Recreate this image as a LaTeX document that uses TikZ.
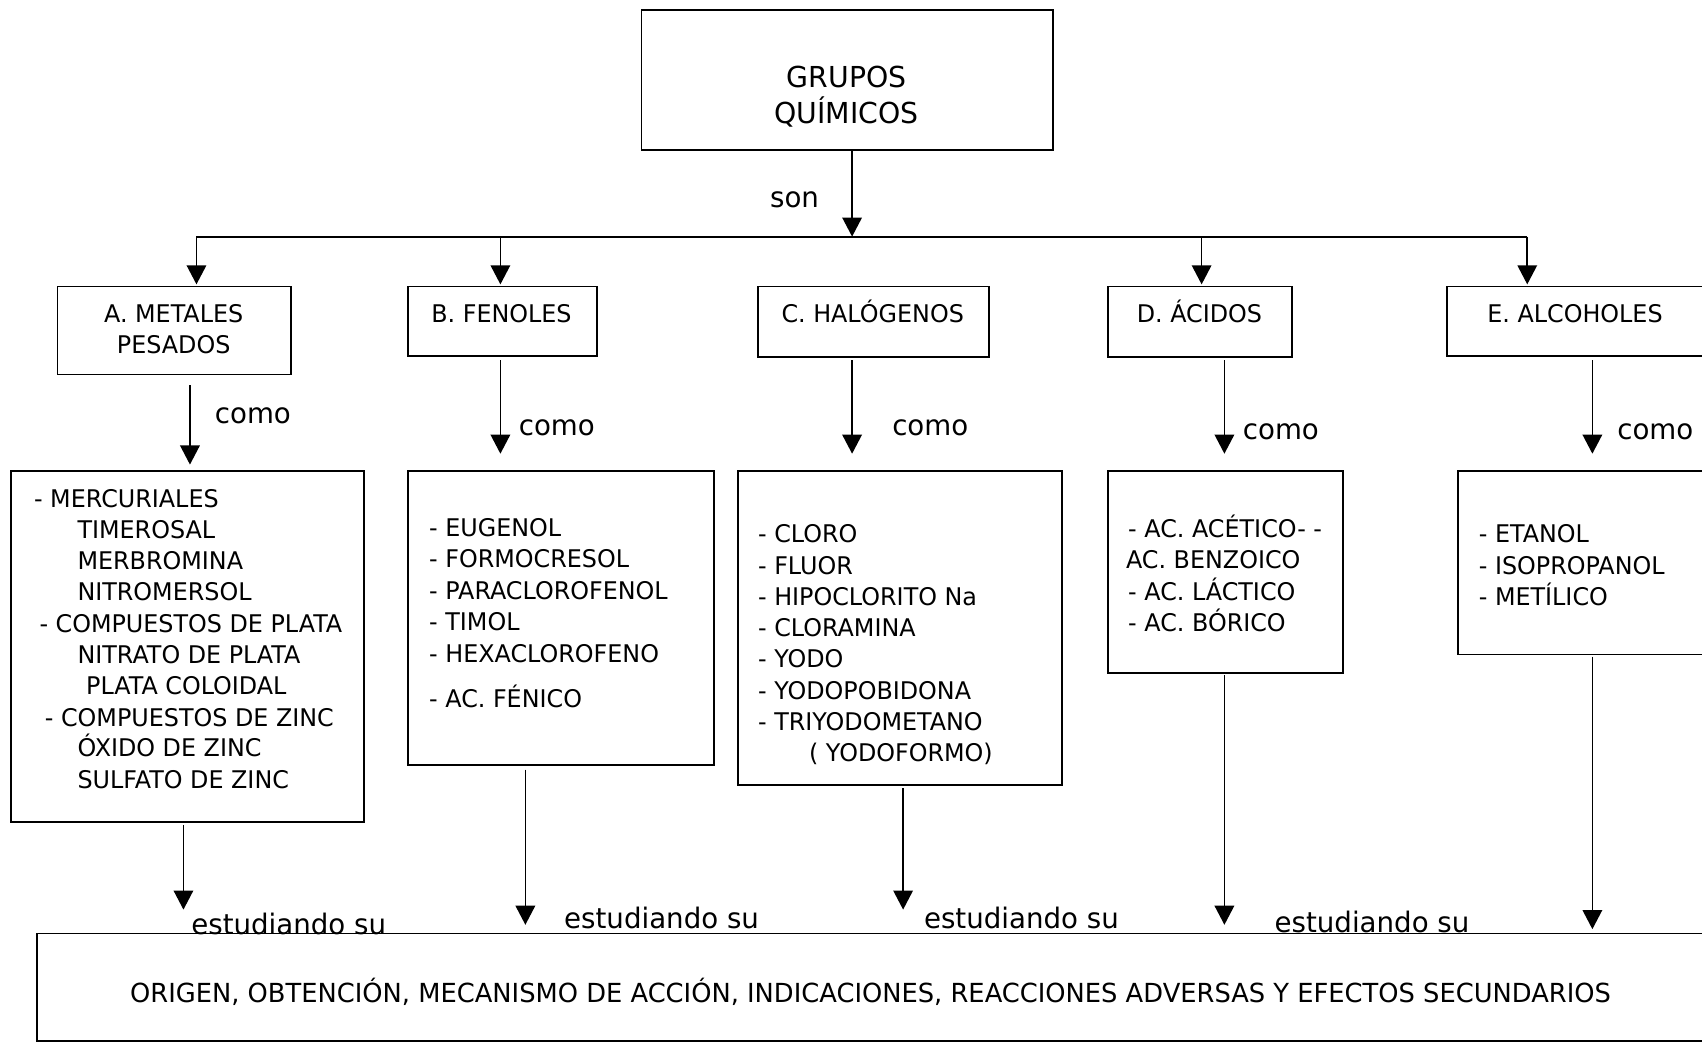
\documentclass[tikz,border=0pt]{standalone}
\usepackage{fontspec}
\setmainfont{DejaVu Sans}[FakeStretch=0.98]
\usetikzlibrary{arrows.meta,fit}
\begin{document}
\begin{tikzpicture}[x=0.5pt,y=-0.5pt,
  box/.style={draw, line width=0.85pt, inner sep=0pt},
  item/.style={inner sep=0pt, anchor=base west, font=\fontsize{11.2}{13}\selectfont},
  head/.style={inner sep=0pt, anchor=base, font=\fontsize{11.2}{13}\selectfont},
  ttl/.style={inner sep=0pt, anchor=base, font=\fontsize{13.3}{15}\selectfont},
  lbl/.style={inner sep=0pt, font=\fontsize{13}{15}\selectfont},
  foot/.style={inner sep=0pt, anchor=base, font=\fontsize{12.1}{14}\selectfont},
  arr/.style={line width=0.8pt, -{Triangle[length=8.8pt,width=9pt]}},
  branch/.style={line width=1pt}]
\useasboundingbox (0,0) rectangle (1568,961);
\clip (0,0) rectangle (1568,961);

% title box
\node[box, fit={(591,9) (970,138)}] (top) {};
\node[ttl] (t1) at (780,80.5) {GRUPOS};
\node[ttl] (t2) at (780,113.5) {QUÍMICOS};

% main arrow and branch line
\coordinate (m0) at (785,138);
\coordinate (m1) at (785,218);
\draw[arr] (m0) -- (m1);
\node[lbl] (son) at (732,184) {son};
\coordinate (bl) at (181,218);
\coordinate (br) at (1407,218);
\draw[branch] (bl) -- (br);

% group boxes
\node[box, fit={(53,264) (268,345)}] (ha) {};
\node[box, fit={(376,264) (550,328)}] (hb) {};
\node[box, fit={(698,264) (911,329)}] (hc) {};
\node[box, fit={(1021,264) (1190,329)}] (hd) {};
\node[box, fit={(1333,264) (1590,328)}] (he) {};
\node[head] (ha1) at (160,297) {A. METALES};
\node[head] (ha2) at (160,326) {PESADOS};
\node[head] (hb1) at (462,297) {B. FENOLES};
\node[head] (hc1) at (804,297) {C. HALÓGENOS};
\node[head] (hd1) at (1105,297) {D. ÁCIDOS};
\node[head] (he1) at (1451,297) {E. ALCOHOLES};

% branch arrows
\foreach \x/\n in {181/a,461/b,1107/d,1407/e}{
  \coordinate (s\n) at (\x,218);
  \coordinate (e\n) at (\x,262);
  \draw[arr] (s\n) -- (e\n);
}

% "como" arrows
\foreach \x/\ya/\yb/\lx/\ly/\n in {175/355/428/233/383/a,461/332/418/513/394/b,785/332/418/857/394/c,1128/332/418/1180/398/d,1467/332/418/1525/398/e}{
  \coordinate (c\n0) at (\x,\ya);
  \coordinate (c\n1) at (\x,\yb);
  \draw[arr] (c\n0) -- (c\n1);
  \node[lbl] (como\n) at (\lx,\ly) {como};
}

% list boxes
\node[box, fit={(10,434) (335,757)}] (la) {};
\node[box, fit={(376,434) (658,705)}] (lb) {};
\node[box, fit={(680,434) (978,723)}] (lc) {};
\node[box, fit={(1021,434) (1237,620)}] (ld) {};
\node[box, fit={(1343,434) (1590,603)}] (le) {};

\foreach \x/\y/\t [count=\i] in {31/468/- MERCURIALES, 71/496/TIMEROSAL,
  71/525/MERBROMINA, 71/553/NITROMERSOL, 36/583/- COMPUESTOS DE PLATA,
  71/611/NITRATO DE PLATA, 79/640/PLATA COLOIDAL, 41/669/- COMPUESTOS DE ZINC,
  71/697/ÓXIDO DE ZINC, 71/726/SULFATO DE ZINC}
  \node[item] (ia\i) at (\x,\y) {\t};

\foreach \x/\y/\t [count=\i] in {395/494/- EUGENOL, 395/523/- FORMOCRESOL,
  395/552/- PARACLOROFENOL, 395/581/- TIMOL, 395/610/- HEXACLOROFENO,
  395/652/- AC. FÉNICO}
  \node[item] (ib\i) at (\x,\y) {\t};

\foreach \x/\y/\t [count=\i] in {698/500/- CLORO, 698/529/- FLUOR,
  698/558/- HIPOCLORITO Na, 698/586/- CLORAMINA, 698/615/- YODO,
  698/644/- YODOPOBIDONA, 698/673/- TRIYODOMETANO, 745/702/( YODOFORMO)}
  \node[item] (ic\i) at (\x,\y) {\t};

\foreach \x/\y/\t [count=\i] in {1039/495/- AC. ACÉTICO- -, 1037/524/AC. BENZOICO,
  1039/553/- AC. LÁCTICO, 1039/582/- AC. BÓRICO}
  \node[item] (id\i) at (\x,\y) {\t};

\foreach \x/\y/\t [count=\i] in {1362/500/- ETANOL, 1362/529/- ISOPROPANOL,
  1362/558/- METÍLICO}
  \node[item] (ie\i) at (\x,\y) {\t};

% arrows to the bottom box
\foreach \x/\ya/\yb/\n in {169/760/838/a,484/709/852/b,832/726/838/c,1128/622/852/d,1467/605/856/e}{
  \coordinate (d\n0) at (\x,\ya);
  \coordinate (d\n1) at (\x,\yb);
  \draw[arr] (d\n0) -- (d\n1);
}
\foreach \x/\y/\n in {266/851/a,609.5/846/b,941/846/c,1264/849/d}
  \node[lbl] (est\n) at (\x,\y) {estudiando su};

% bottom box
\node[box, fit={(34,860) (1590,959)}] (bot) {};
\node[foot] (bt) at (802,924) {ORIGEN, OBTENCIÓN, MECANISMO DE ACCIÓN, INDICACIONES, REACCIONES ADVERSAS Y EFECTOS SECUNDARIOS};
\end{tikzpicture}
\end{document}
